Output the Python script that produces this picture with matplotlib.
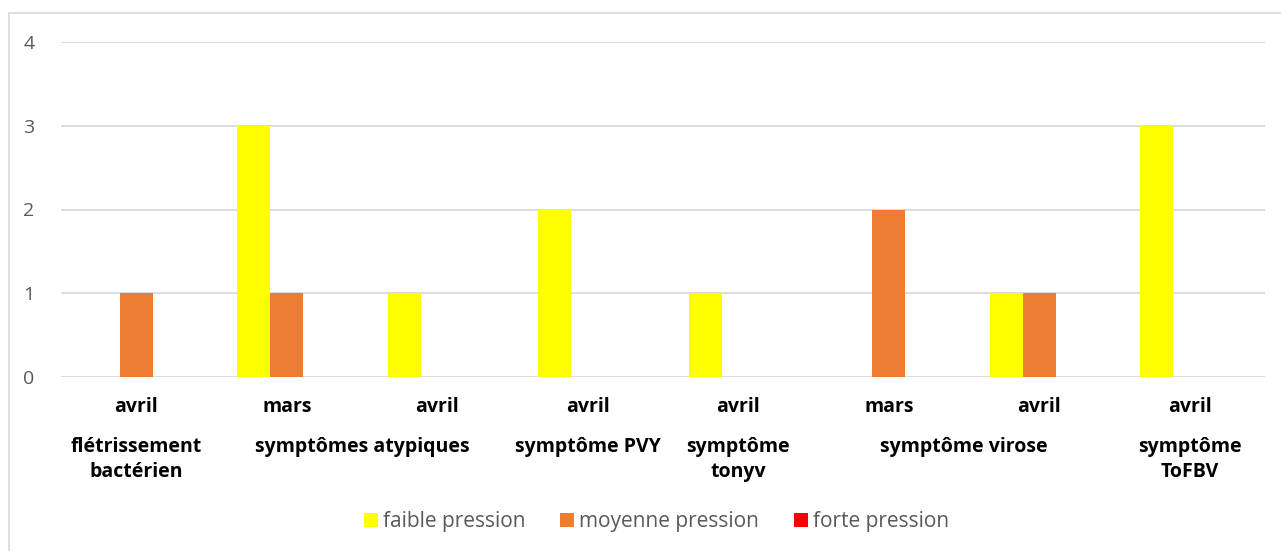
import numpy as np
import matplotlib.pyplot as plt
from matplotlib.patches import Rectangle

# mois observés, dans l'ordre de l'axe
mois = ['avril', 'mars', 'avril', 'avril', 'avril', 'mars', 'avril', 'avril']
# symptômes (étiquette, indice de début, indice de fin)
groupes = [
    ('flétrissement\nbactérien', 0, 0),
    ('symptômes atypiques', 1, 2),
    ('symptôme PVY', 3, 3),
    ('symptôme\ntonyv', 4, 4),
    ('symptôme virose', 5, 6),
    ('symptôme\nToFBV', 7, 7),
]

faible = [0, 3, 1, 2, 1, 0, 1, 3]
moyenne = [1, 1, 0, 0, 0, 2, 1, 0]
forte = [0, 0, 0, 0, 0, 0, 0, 0]

series = [
    ('faible pression', faible, '#FFFF00'),
    ('moyenne pression', moyenne, '#ED7D31'),
    ('forte pression', forte, '#FF0000'),
]

plt.rcParams['font.family'] = ['Open Sans', 'DejaVu Sans']

W, H = 1281, 551
fig = plt.figure(figsize=(W / 100, H / 100), dpi=100)
ax = fig.add_axes([61 / W, 1 - 377 / H, (1265 - 61) / W, (377 - 42) / H])

# cadre du graphique
fig.patches.append(Rectangle((8.5 / W, -0.05), 1.2, 1 - 12.5 / H + 0.05,
                             transform=fig.transFigure, fill=False,
                             edgecolor='#D9D9D9', linewidth=1.2))

x = np.arange(len(mois))
largeur = 0.22
for i, (nom, vals, couleur) in enumerate(series):
    ax.bar(x + (i - 1) * largeur, vals, largeur, color=couleur, label=nom)

ax.set_xlim(-0.5, len(mois) - 0.5)
ax.set_ylim(0, 4)
ax.set_yticks(range(5))
ax.yaxis.grid(True, color='#D9D9D9', linewidth=1.3)
ax.set_axisbelow(True)
for s in ax.spines.values():
    s.set_visible(False)
ax.tick_params(axis='y', length=0, pad=19, labelsize=14, labelcolor='#595959')
ax.tick_params(axis='x', length=0)
ax.set_xticks([])

# étiquettes à deux niveaux
police = dict(fontsize=14, fontweight='bold', color='black')
for xi, m in zip(x, mois):
    ax.annotate(m, (xi, 0), xycoords=('data', 'axes fraction'), xytext=(0, -30),
                textcoords='offset pixels', ha='center', va='center', **police)
for etiquette, debut, fin in groupes:
    centre = (debut + fin) / 2
    ax.annotate(etiquette, (centre, 0), xycoords=('data', 'axes fraction'),
                xytext=(0, -60), textcoords='offset pixels', ha='center', va='top',
                linespacing=1.35, **police)

leg = fig.legend(loc='center', bbox_to_anchor=(656.5 / W, 1 - 522 / H), ncol=3,
                 frameon=False, handlelength=0.67, handleheight=0.67,
                 handletextpad=0.24, columnspacing=1.68, fontsize=15)
for t in leg.get_texts():
    t.set_color('#595959')

fig.savefig('out.png', dpi=100)
